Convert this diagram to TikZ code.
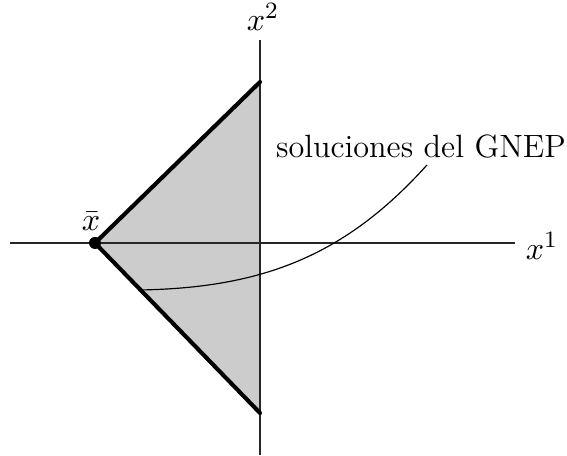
\documentclass[tikz,border=0pt]{standalone}
\usepackage{tikz}
\usetikzlibrary{positioning}
\usepackage{xcolor}
\definecolor{conefill}{gray}{0.8}

\begin{document}
\begin{tikzpicture}[
    x=0.012cm, y=0.012cm,
    axis/.style={thin, color=black!85},
    edge/.style={line width=1.4pt, line cap=round},
    cone/.style={fill=conefill, draw=none},
    pointer/.style={thin},
    lbl/.style={font=\fontsize{11pt}{13pt}\selectfont, inner sep=1pt},
]
\useasboundingbox (-260,-213) rectangle (307,243);

% Shaded region
\coordinate (xbar) at (-165,0);
\coordinate (top) at (0,161);
\coordinate (bot) at (0,-170);
\fill[cone] (xbar) -- (top) -- (bot) -- cycle;

% Axes
\coordinate (xl) at (-250,0);
\coordinate (xr) at (255,0);
\coordinate (yb) at (0,-212);
\coordinate (yt) at (0,203);
\draw[axis] (xl) -- (xr);
\draw[axis] (yb) -- (yt);
\node[lbl, right=2.5pt of xr, yshift=-1pt] (lx1) {$x^1$};
\node[lbl, above=2pt of yt, xshift=1pt] (lx2) {$x^2$};

% Boundary of the cone
\draw[edge] (top) -- (xbar) -- (bot);
\fill (xbar) circle (6);
\node[lbl, above left=3pt and -3pt of xbar] (lxbar) {$\bar{x}$};

% Label and pointer
\node[lbl] (sol) at (161,97) {soluciones del GNEP};
\coordinate (tip) at (-120,-47);
\coordinate (pend) at (167,78);
\draw[pointer] (tip) to[out=1, in=228] (pend);

\end{tikzpicture}
\end{document}
